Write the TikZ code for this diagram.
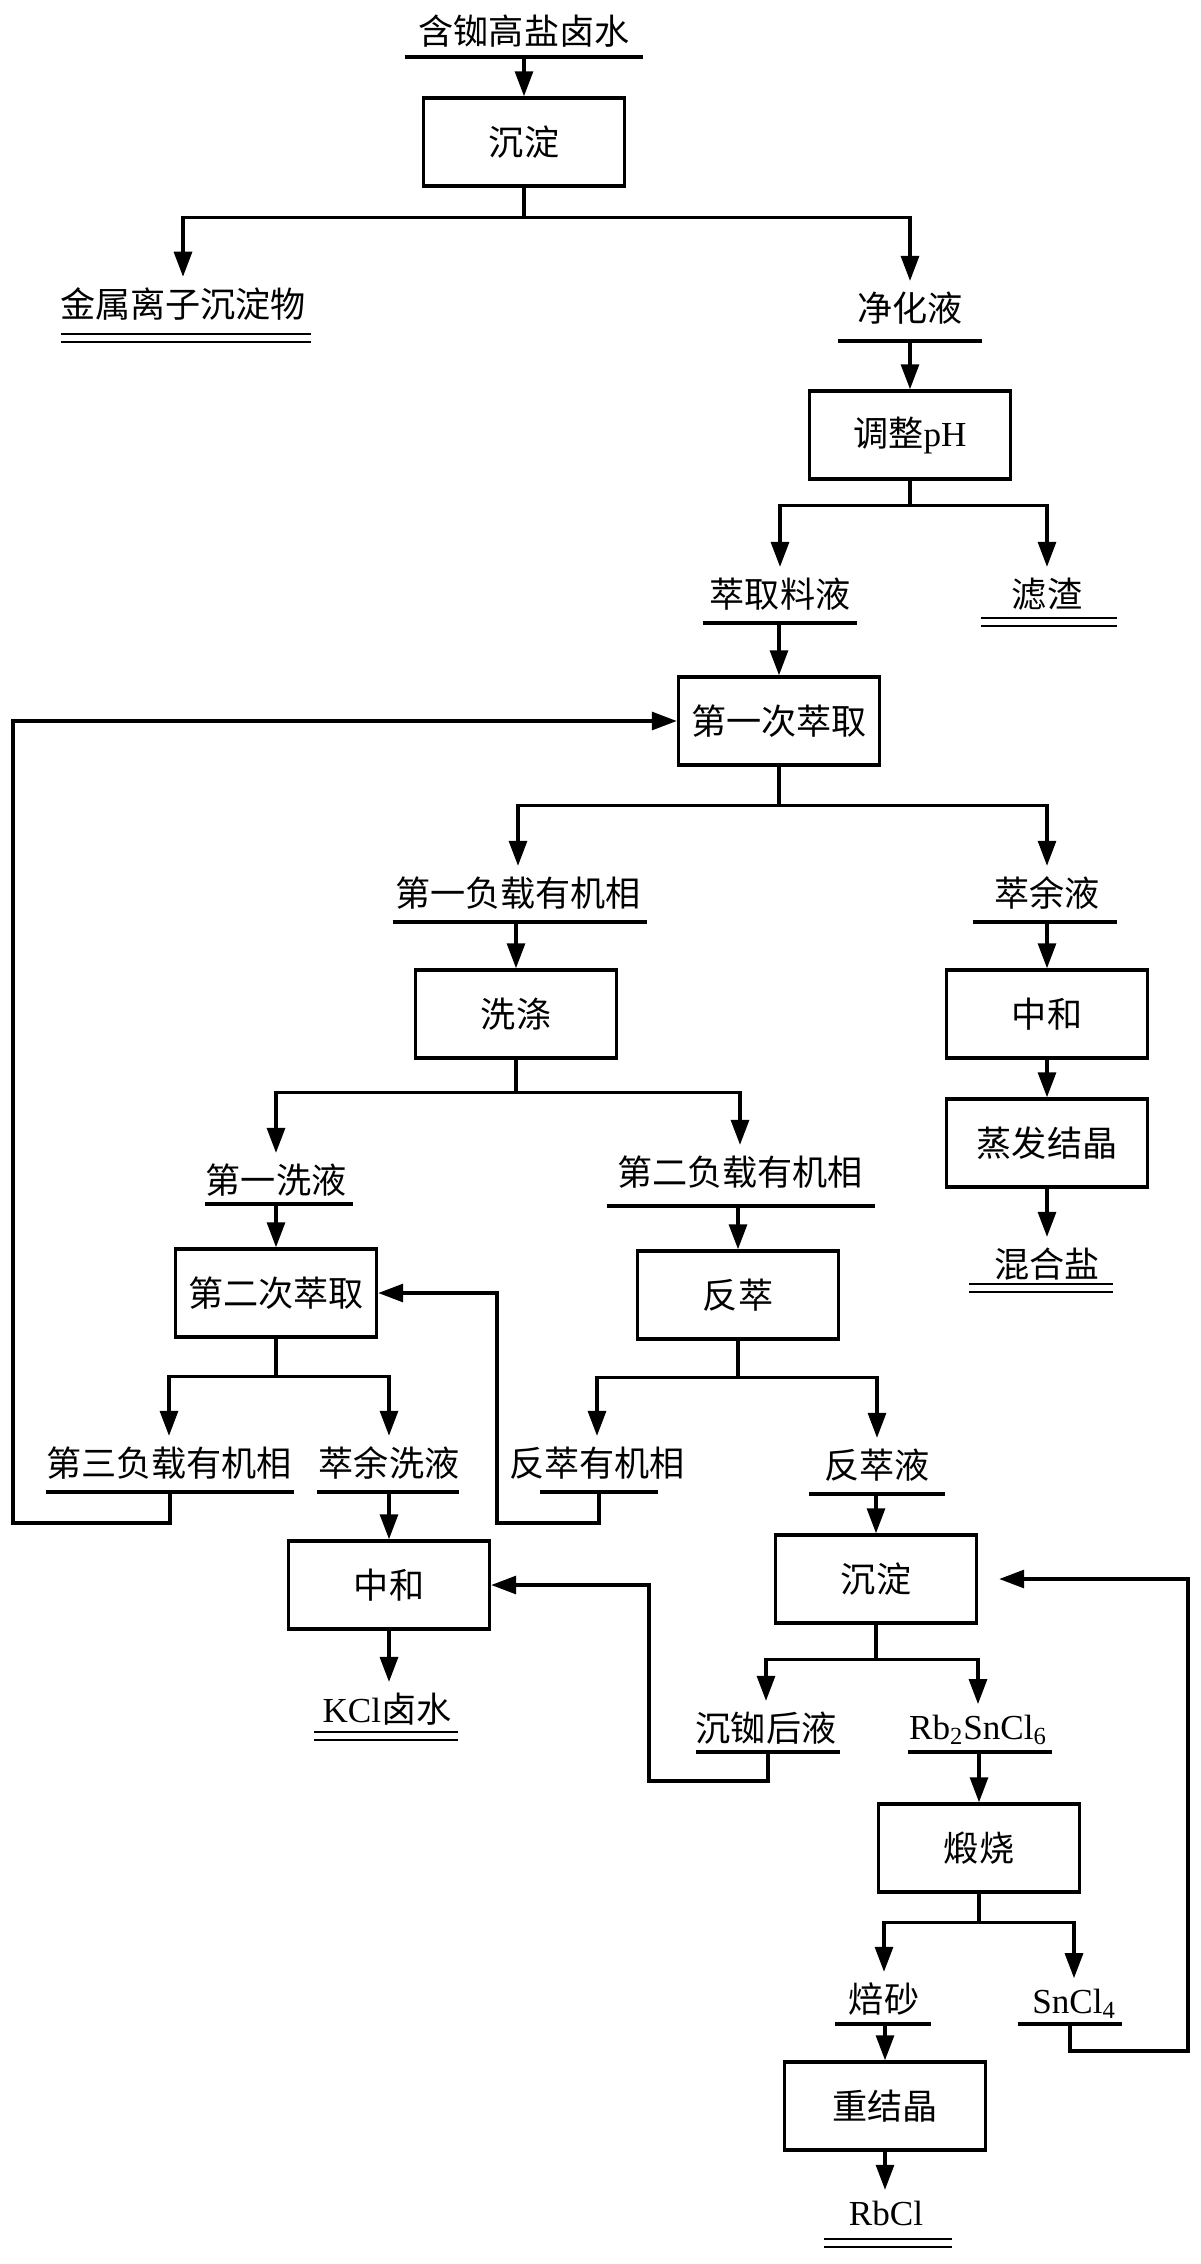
\documentclass[tikz,border=0pt]{standalone}
\usepackage{fontspec}
\setmainfont{Liberation Serif}
\newfontfamily\cjk{Noto Sans CJK SC}
\usepackage{tikz}
\usetikzlibrary{arrows.meta, positioning}
\newcommand\en[1]{{\rmfamily #1}}

\begin{document}
\begin{tikzpicture}[
    x=0.02cm, y=-0.02cm,
    box/.style={rectangle, draw, line width=2pt, minimum width=4.02cm, minimum height=1.76cm, font=\cjk\fontsize{20}{24}\selectfont},
    stream/.style={font=\cjk\fontsize{20}{24}\selectfont, inner sep=6pt},
    bar/.style={rectangle, inner sep=0pt, minimum height=0pt, minimum width=#1*0.02cm, append after command={(\tikzlastnode.west) edge[line width=1.9pt] (\tikzlastnode.east)}},
    dbar/.style={rectangle, inner sep=0pt, minimum height=0pt, minimum width=#1*0.02cm, append after command={(\tikzlastnode.west) edge[line width=1.5pt, double, double distance=3.2pt] (\tikzlastnode.east)}},
    arrow/.style={-{Triangle[length=0.5cm, width=0.36cm]}, line width=1.8pt}
]
\useasboundingbox (0,0) rectangle (1200,2264);

% Feed
\node[stream] (feed) at (524,31) {含铷高盐卤水};
\node[bar=238] (feed-u) at (524,57) {};
\node[box] (cd1) at (524,142) {沉淀};

% Purification
\node[stream] (jsz) at (183,304) {金属离子沉淀物};
\node[dbar=249] (jsz-u) at (186,338) {};
\node[stream] (jhy) at (910,308) {净化液};
\node[bar=143] (jhy-u) at (910,341) {};
\node[box] (ph) at (910,435) {调整\en{pH}};
\node[stream] (cqly) at (780,594) {萃取料液};
\node[bar=153] (cqly-u) at (780,623) {};
\node[stream] (lz) at (1047,594) {滤渣};
\node[dbar=136] (lz-u) at (1049,622) {};

% First extraction
\node[box] (cq1) at (779,721) {第一次萃取};
\node[stream] (fz1) at (518,893) {第一负载有机相};
\node[bar=254] (fz1-u) at (520,922) {};
\node[stream] (zyy) at (1047,893) {萃余液};
\node[bar=144] (zyy-u) at (1045,922) {};
\node[box] (zh1) at (1047,1014) {中和};
\node[box] (zf) at (1047,1143) {蒸发结晶};
\node[stream] (hhy) at (1047,1264) {混合盐};
\node[dbar=143] (hhy-u) at (1041,1288) {};

% Washing
\node[box] (xd) at (516,1014) {洗涤};
\node[stream] (dyxy) at (276,1180) {第一洗液};
\node[bar=148] (dyxy-u) at (279,1204) {};
\node[stream] (fz2) at (740,1172) {第二负载有机相};
\node[bar=268] (fz2-u) at (741,1206) {};

% Second extraction and stripping
\node[box] (cq2) at (276,1293) {第二次萃取};
\node[box] (fc) at (738,1295) {反萃};
\node[stream] (fz3) at (169,1463) {第三负载有机相};
\node[bar=247] (fz3-u) at (170,1492) {};
\node[stream] (zyxy) at (389,1463) {萃余洗液};
\node[bar=142] (zyxy-u) at (388,1492) {};
\node[stream] (fcyj) at (597,1463) {反萃有机相};
\node[bar=118] (fcyj-u) at (599,1492) {};
\node[stream] (fcy) at (877,1465) {反萃液};
\node[bar=136] (fcy-u) at (877,1494) {};
\node[box] (zh2) at (389,1585) {中和};
\node[stream] (kcl) at (387,1709) {\en{KCl}卤水};
\node[dbar=143] (kcl-u) at (386,1736) {};

% Rubidium precipitation
\node[box] (cd2) at (876,1579) {沉淀};
\node[stream] (crhy) at (766,1728) {沉铷后液};
\node[bar=144] (crhy-u) at (768,1752) {};
\node[stream] (rbsn) at (978,1730) {\en{Rb\textsubscript{2}SnCl\textsubscript{6}}};
\node[bar=143] (rbsn-u) at (980,1752) {};
\node[box] (ds) at (979,1848) {煅烧};
\node[stream] (bs) at (884,1999) {焙砂};
\node[bar=95] (bs-u) at (883,2024) {};
\node[stream] (sncl) at (1074,2004) {\en{SnCl\textsubscript{4}}};
\node[bar=103] (sncl-u) at (1070,2024) {};
\node[box] (cjj) at (885,2106) {重结晶};
\node[stream] (rbcl) at (886,2213) {\en{RbCl}};
\node[dbar=127] (rbcl-u) at (888,2243) {};

% Return loops
\coordinate (loop1) at (13,1523);
\coordinate (loop2) at (497,1523);
\coordinate (loop3) at (649,1781);
\coordinate (loop4) at (1188,2051);

% Arrows
\draw[arrow] (cd1.north |- feed-u) -- (cd1.north);
\draw[arrow] (cd1.south) -- ++(0,30) -| (jsz.north);
\draw[arrow] (cd1.south) -- ++(0,30) -| (jhy.north);
\draw[arrow] (ph.north |- jhy-u) -- (ph.north);
\draw[arrow] (ph.south) -- ++(0,25) -| (cqly.north);
\draw[arrow] (ph.south) -- ++(0,25) -| (lz.north);
\draw[arrow] (cq1.north |- cqly-u) -- (cq1.north);
\draw[arrow] (cq1.south) -- ++(0,39) -| (fz1.north);
\draw[arrow] (cq1.south) -- ++(0,39) -| (zyy.north);
\draw[arrow] (xd.north |- fz1-u) -- (xd.north);
\draw[arrow] (zh1.north |- zyy-u) -- (zh1.north);
\draw[arrow] (zh1) -- (zf);
\draw[arrow] (zf.south) -- (zf.south |- hhy.north);
\draw[arrow] (xd.south) -- ++(0,33) -| (dyxy.north);
\draw[arrow] (xd.south) -- ++(0,33) -| (fz2.north);
\draw[arrow] (cq2.north |- dyxy-u) -- (cq2.north);
\draw[arrow] (fc.north |- fz2-u) -- (fc.north);
\draw[arrow] (cq2.south) -- ++(0,38) -| (fz3.north);
\draw[arrow] (cq2.south) -- ++(0,38) -| (zyxy.north);
\draw[arrow] (fc.south) -- ++(0,37) -| (fcyj.north);
\draw[arrow] (fc.south) -- ++(0,37) -| (fcy.north);
\draw[arrow] (zh2.north |- zyxy-u) -- (zh2.north);
\draw[arrow] (zh2.south) -- (zh2.south |- kcl.north);
\draw[arrow] (cd2.north |- fcy-u) -- (cd2.north);
\draw[arrow] (cd2.south) -- ++(0,35) -| (crhy.north);
\draw[arrow] (cd2.south) -- ++(0,35) -| (rbsn.north);
\draw[arrow] (ds.north |- rbsn-u) -- (ds.north);
\draw[arrow] (ds.south) -- ++(0,29) -| (bs.north);
\draw[arrow] (ds.south) -- ++(0,29) -| (sncl.north);
\draw[arrow] (cjj.north |- bs-u) -- (cjj.north);
\draw[arrow] (cjj.south) -- (cjj.south |- rbcl.north);

% Recycled streams
\draw[arrow] (fz3-u.center) |- (loop1) |- (cq1.west);
\draw[arrow] (fcyj-u.center) |- (loop2) |- (cq2.east);
\draw[arrow] (crhy-u.center) |- (loop3) |- (zh2.east);
\draw[arrow, shorten >=0.42cm] (sncl-u.center) |- (loop4) |- (cd2.east);

\end{tikzpicture}
\end{document}
